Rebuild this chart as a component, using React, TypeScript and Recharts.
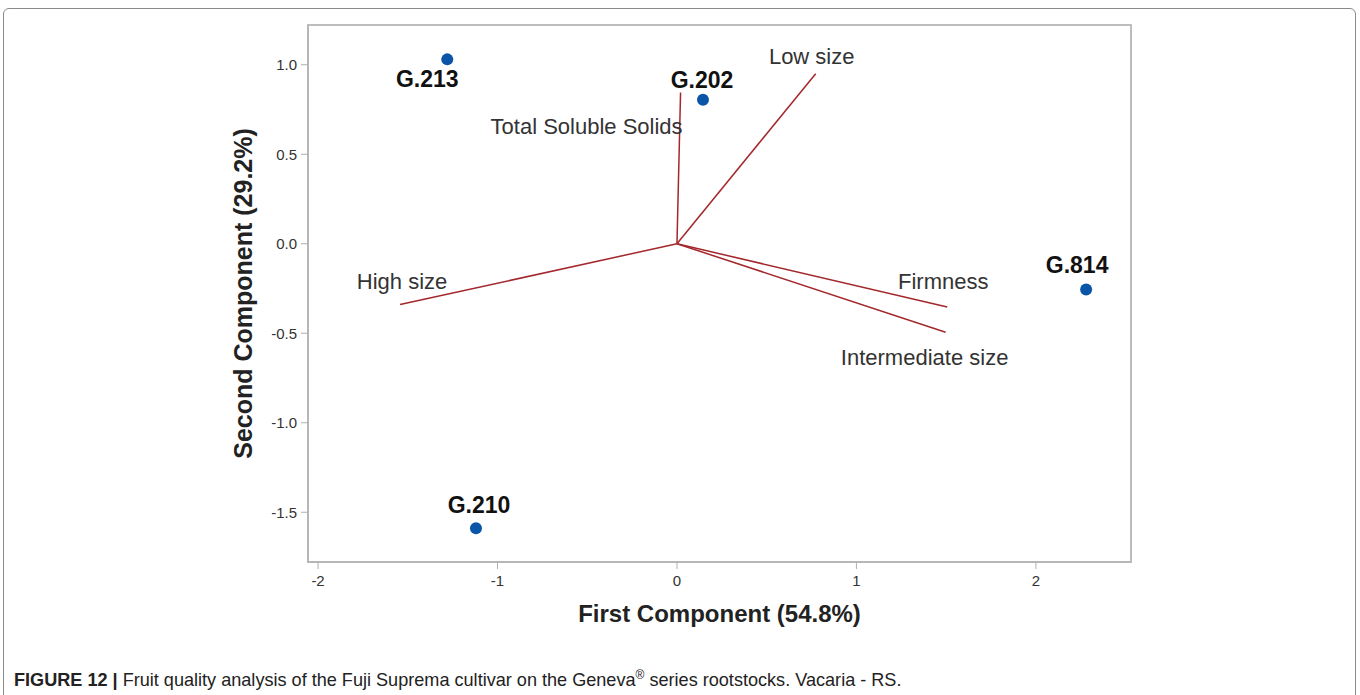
import {
  ReferenceArea,
  ReferenceLine,
  Scatter,
  ScatterChart,
  XAxis,
  YAxis,
} from "recharts";

// rootstock scores (PC1, PC2)
const rootstocks = ["G.213", "G.202", "G.814", "G.210"];
const pc1Scores = [-1.28, 0.145, 2.28, -1.12];
const pc2Scores = [1.03, 0.805, -0.255, -1.59];

// variable loadings (vectors from the origin)
const variables = ["Total Soluble Solids", "Low size", "High size", "Firmness", "Intermediate size"];
const pc1Loadings = [0.02, 0.773, -1.543, 1.506, 1.497];
const pc2Loadings = [0.845, 0.95, -0.34, -0.354, -0.494];

const xTicks = [-2, -1, 0, 1, 2];
const yTicks = [-1.5, -1.0, -0.5, 0.0, 0.5, 1.0];
const xDomain: [number, number] = [-2.056, 2.53];
const yDomain: [number, number] = [-1.778, 1.222];

// label offsets in px (styling only)
const pointLabelOffset: Record<string, [number, number]> = {
  "G.213": [-20, 20],
  "G.202": [-1, -20],
  "G.814": [-9, -24],
  "G.210": [3, -23],
};
const vectorLabelOffset: Record<string, [number, number]> = {
  "Total Soluble Solids": [-94, 34],
  "Low size": [-4, -17],
  "High size": [2, -23],
  "Firmness": [-4, -26],
  "Intermediate size": [-21, 25],
};

const scoreData = rootstocks.map((name, i) => ({ name, x: pc1Scores[i], y: pc2Scores[i] }));
const loadingData = variables.map((name, i) => ({ name, x: pc1Loadings[i], y: pc2Loadings[i] }));

const FONT = "'Liberation Sans', Arial, sans-serif";
const VECTOR = "#a3272b";

const PointShape = (props: any) => {
  const { cx, cy, payload } = props;
  const [dx, dy] = pointLabelOffset[payload.name] || [0, 0];
  return (
    <g>
      <circle cx={cx} cy={cy} r={6} fill="#0a55a8" />
      <text
        x={cx + dx}
        y={cy + dy}
        textAnchor="middle"
        dominantBaseline="central"
        fontFamily={FONT}
        fontWeight="bold"
        fontSize={23}
        fill="#111"
      >
        {payload.name}
      </text>
    </g>
  );
};

const VectorLabel = (props: any) => {
  const { cx, cy, payload } = props;
  const [dx, dy] = vectorLabelOffset[payload.name] || [0, 0];
  return (
    <text
      x={cx + dx}
      y={cy + dy}
      textAnchor="middle"
      dominantBaseline="central"
      fontFamily={FONT}
      fontSize={22}
      fill="#333"
    >
      {payload.name}
    </text>
  );
};

const App = () => {
  return (
    <div style={{ position: "absolute", left: 0, top: 0, width: 1360, height: 695, background: "#fff", overflow: "hidden" }}>
      <div
        style={{
          position: "absolute",
          left: 3,
          top: 8,
          width: 1351,
          height: 720,
          border: "1px solid #8a8a8a",
          borderRadius: 6,
        }}
      />
      <div style={{ position: "absolute", left: 0, top: 0 }}>
        <ScatterChart width={1360} height={695} margin={{ top: 25, right: 229, bottom: 73, left: 228 }}>
          <ReferenceArea
            x1={xDomain[0]}
            x2={xDomain[1]}
            y1={yDomain[0]}
            y2={yDomain[1]}
            fill="none"
            stroke="#bdbdbd"
            strokeWidth={2}
          />
          <XAxis
            type="number"
            dataKey="x"
            domain={xDomain}
            ticks={xTicks}
            allowDataOverflow
            height={60}
            tickSize={7}
            tickMargin={6}
            stroke="#b0b0b0"
            tick={{ fill: "#333", fontSize: 15, fontFamily: FONT }}
            label={{
              value: "First Component (54.8%)",
              position: "insideBottom",
              offset: 0,
              style: { fontFamily: FONT, fontWeight: "bold", fontSize: 24, fill: "#222" },
            }}
          />
          <YAxis
            type="number"
            dataKey="y"
            domain={yDomain}
            ticks={yTicks}
            allowDataOverflow
            width={80}
            tickSize={7}
            tickMargin={4}
            stroke="#b0b0b0"
            tickFormatter={(v: number) => v.toFixed(1)}
            tick={{ fill: "#333", fontSize: 15, fontFamily: FONT }}
            label={{
              value: "Second Component (29.2%)",
              angle: -90,
              position: "insideLeft",
              offset: 15,
              style: { textAnchor: "middle", fontFamily: FONT, fontWeight: "bold", fontSize: 25, fill: "#222" },
            }}
          />
          {loadingData.map((d) => (
            <ReferenceLine
              key={d.name}
              segment={[
                { x: 0, y: 0 },
                { x: d.x, y: d.y },
              ]}
              stroke={VECTOR}
              strokeWidth={1.5}
            />
          ))}
          <Scatter data={loadingData} shape={VectorLabel} isAnimationActive={false} />
          <Scatter data={scoreData} shape={PointShape} isAnimationActive={false} />
        </ScatterChart>
      </div>
      <div
        style={{
          position: "absolute",
          left: 14,
          top: 668,
          fontFamily: FONT,
          fontSize: 18.1,
          color: "#222",
          whiteSpace: "nowrap",
        }}
      >
        <b>FIGURE 12 |</b> Fruit quality analysis of the Fuji Suprema cultivar on the Geneva<sup style={{ fontSize: 12 }}>®</sup> series
        rootstocks. Vacaria - RS.
      </div>
    </div>
  );
};

export default App;
